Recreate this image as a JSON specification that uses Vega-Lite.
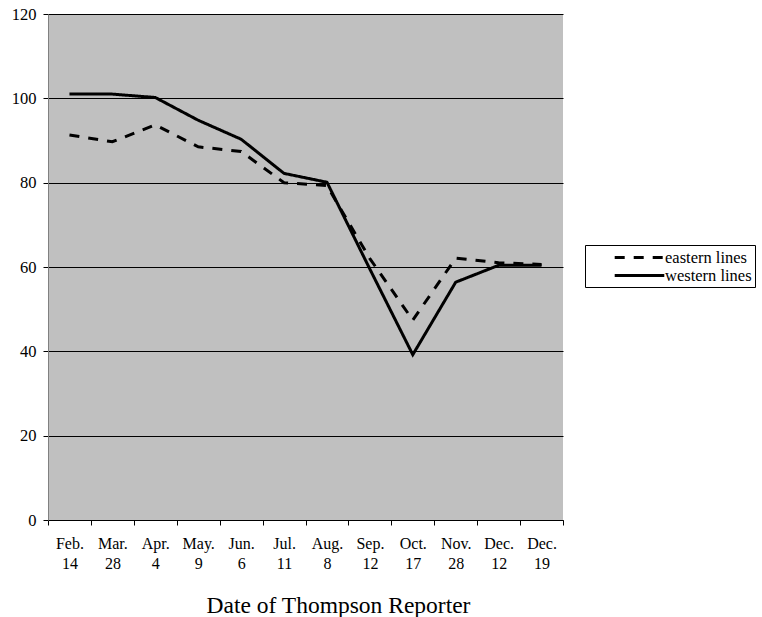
{
  "$schema": "https://vega.github.io/schema/vega-lite/v6.json",
  "width": 515,
  "height": 506,
  "autosize": "none",
  "padding": {"left": 48, "top": 14, "right": 199, "bottom": 97},
  "background": "white",
  "config": {
    "view": {"fill": "#c0c0c0", "stroke": null},
    "font": "Liberation Serif"
  },
  "data": {
    "values": [
      {"date": "Feb. 14", "series": "eastern lines", "value": 91.3},
      {"date": "Mar. 28", "series": "eastern lines", "value": 89.7},
      {"date": "Apr. 4", "series": "eastern lines", "value": 93.7},
      {"date": "May. 9", "series": "eastern lines", "value": 88.5},
      {"date": "Jun. 6", "series": "eastern lines", "value": 87.4},
      {"date": "Jul. 11", "series": "eastern lines", "value": 80.0},
      {"date": "Aug. 8", "series": "eastern lines", "value": 79.3},
      {"date": "Sep. 12", "series": "eastern lines", "value": 62.0},
      {"date": "Oct. 17", "series": "eastern lines", "value": 47.4},
      {"date": "Nov. 28", "series": "eastern lines", "value": 62.1},
      {"date": "Dec. 12", "series": "eastern lines", "value": 61.0},
      {"date": "Dec. 19", "series": "eastern lines", "value": 60.6},
      {"date": "Feb. 14", "series": "western lines", "value": 101.0},
      {"date": "Mar. 28", "series": "western lines", "value": 101.0},
      {"date": "Apr. 4", "series": "western lines", "value": 100.2},
      {"date": "May. 9", "series": "western lines", "value": 94.8},
      {"date": "Jun. 6", "series": "western lines", "value": 90.3},
      {"date": "Jul. 11", "series": "western lines", "value": 82.2},
      {"date": "Aug. 8", "series": "western lines", "value": 80.1},
      {"date": "Sep. 12", "series": "western lines", "value": 59.5},
      {"date": "Oct. 17", "series": "western lines", "value": 39.2},
      {"date": "Nov. 28", "series": "western lines", "value": 56.4},
      {"date": "Dec. 12", "series": "western lines", "value": 60.4},
      {"date": "Dec. 19", "series": "western lines", "value": 60.4}
    ]
  },
  "mark": {"type": "line", "color": "black", "strokeWidth": 3},
  "encoding": {
    "x": {
      "field": "date",
      "type": "ordinal",
      "sort": null,
      "scale": {"paddingInner": 0, "paddingOuter": 0},
      "axis": {
        "title": "Date of Thompson Reporter",
        "titleFont": "Liberation Serif",
        "titleFontSize": 23.5,
        "titleFontWeight": "normal",
        "titleColor": "black",
        "titleX": 290,
        "titleY": 92,
        "titleAlign": "center",
        "titleBaseline": "alphabetic",
        "labelAngle": 0,
        "labelExpr": "split(datum.label, ' ')",
        "labelFont": "Liberation Serif",
        "labelFontSize": 16,
        "labelColor": "black",
        "labelPadding": 10,
        "labelLineHeight": 20,
        "tickBand": "extent",
        "tickColor": "black",
        "tickSize": 5,
        "domainColor": "black",
        "grid": false
      }
    },
    "y": {
      "field": "value",
      "type": "quantitative",
      "scale": {"domain": [0, 120]},
      "axis": {
        "title": null,
        "values": [0, 20, 40, 60, 80, 100, 120],
        "labelFont": "Liberation Serif",
        "labelFontSize": 16.5,
        "labelColor": "black",
        "labelPadding": 7,
        "tickColor": "black",
        "tickSize": 5,
        "domainColor": "#808080",
        "grid": true,
        "gridColor": "black",
        "gridOpacity": 1,
        "gridWidth": 1
      }
    },
    "detail": {"field": "series"},
    "strokeDash": {
      "field": "series",
      "type": "nominal",
      "scale": {"domain": ["eastern lines", "western lines"], "range": [[10, 9], [1, 0]]},
      "legend": {
        "title": null,
        "orient": "none",
        "legendX": 537,
        "legendY": 231,
        "strokeColor": "black",
        "fillColor": "white",
        "padding": 3,
        "symbolOffset": 42,
        "symbolType": "M-3.1,0H3.1",
        "symbolStrokeWidth": 3,
        "symbolStrokeColor": "black",
        "symbolFillColor": "transparent",
        "symbolSize": 256,
        "labelFont": "Liberation Serif",
        "labelFontSize": 16.5,
        "labelColor": "black",
        "labelOffset": 16,
        "rowPadding": 0,
        "labelLimit": 200
      }
    }
  }
}
